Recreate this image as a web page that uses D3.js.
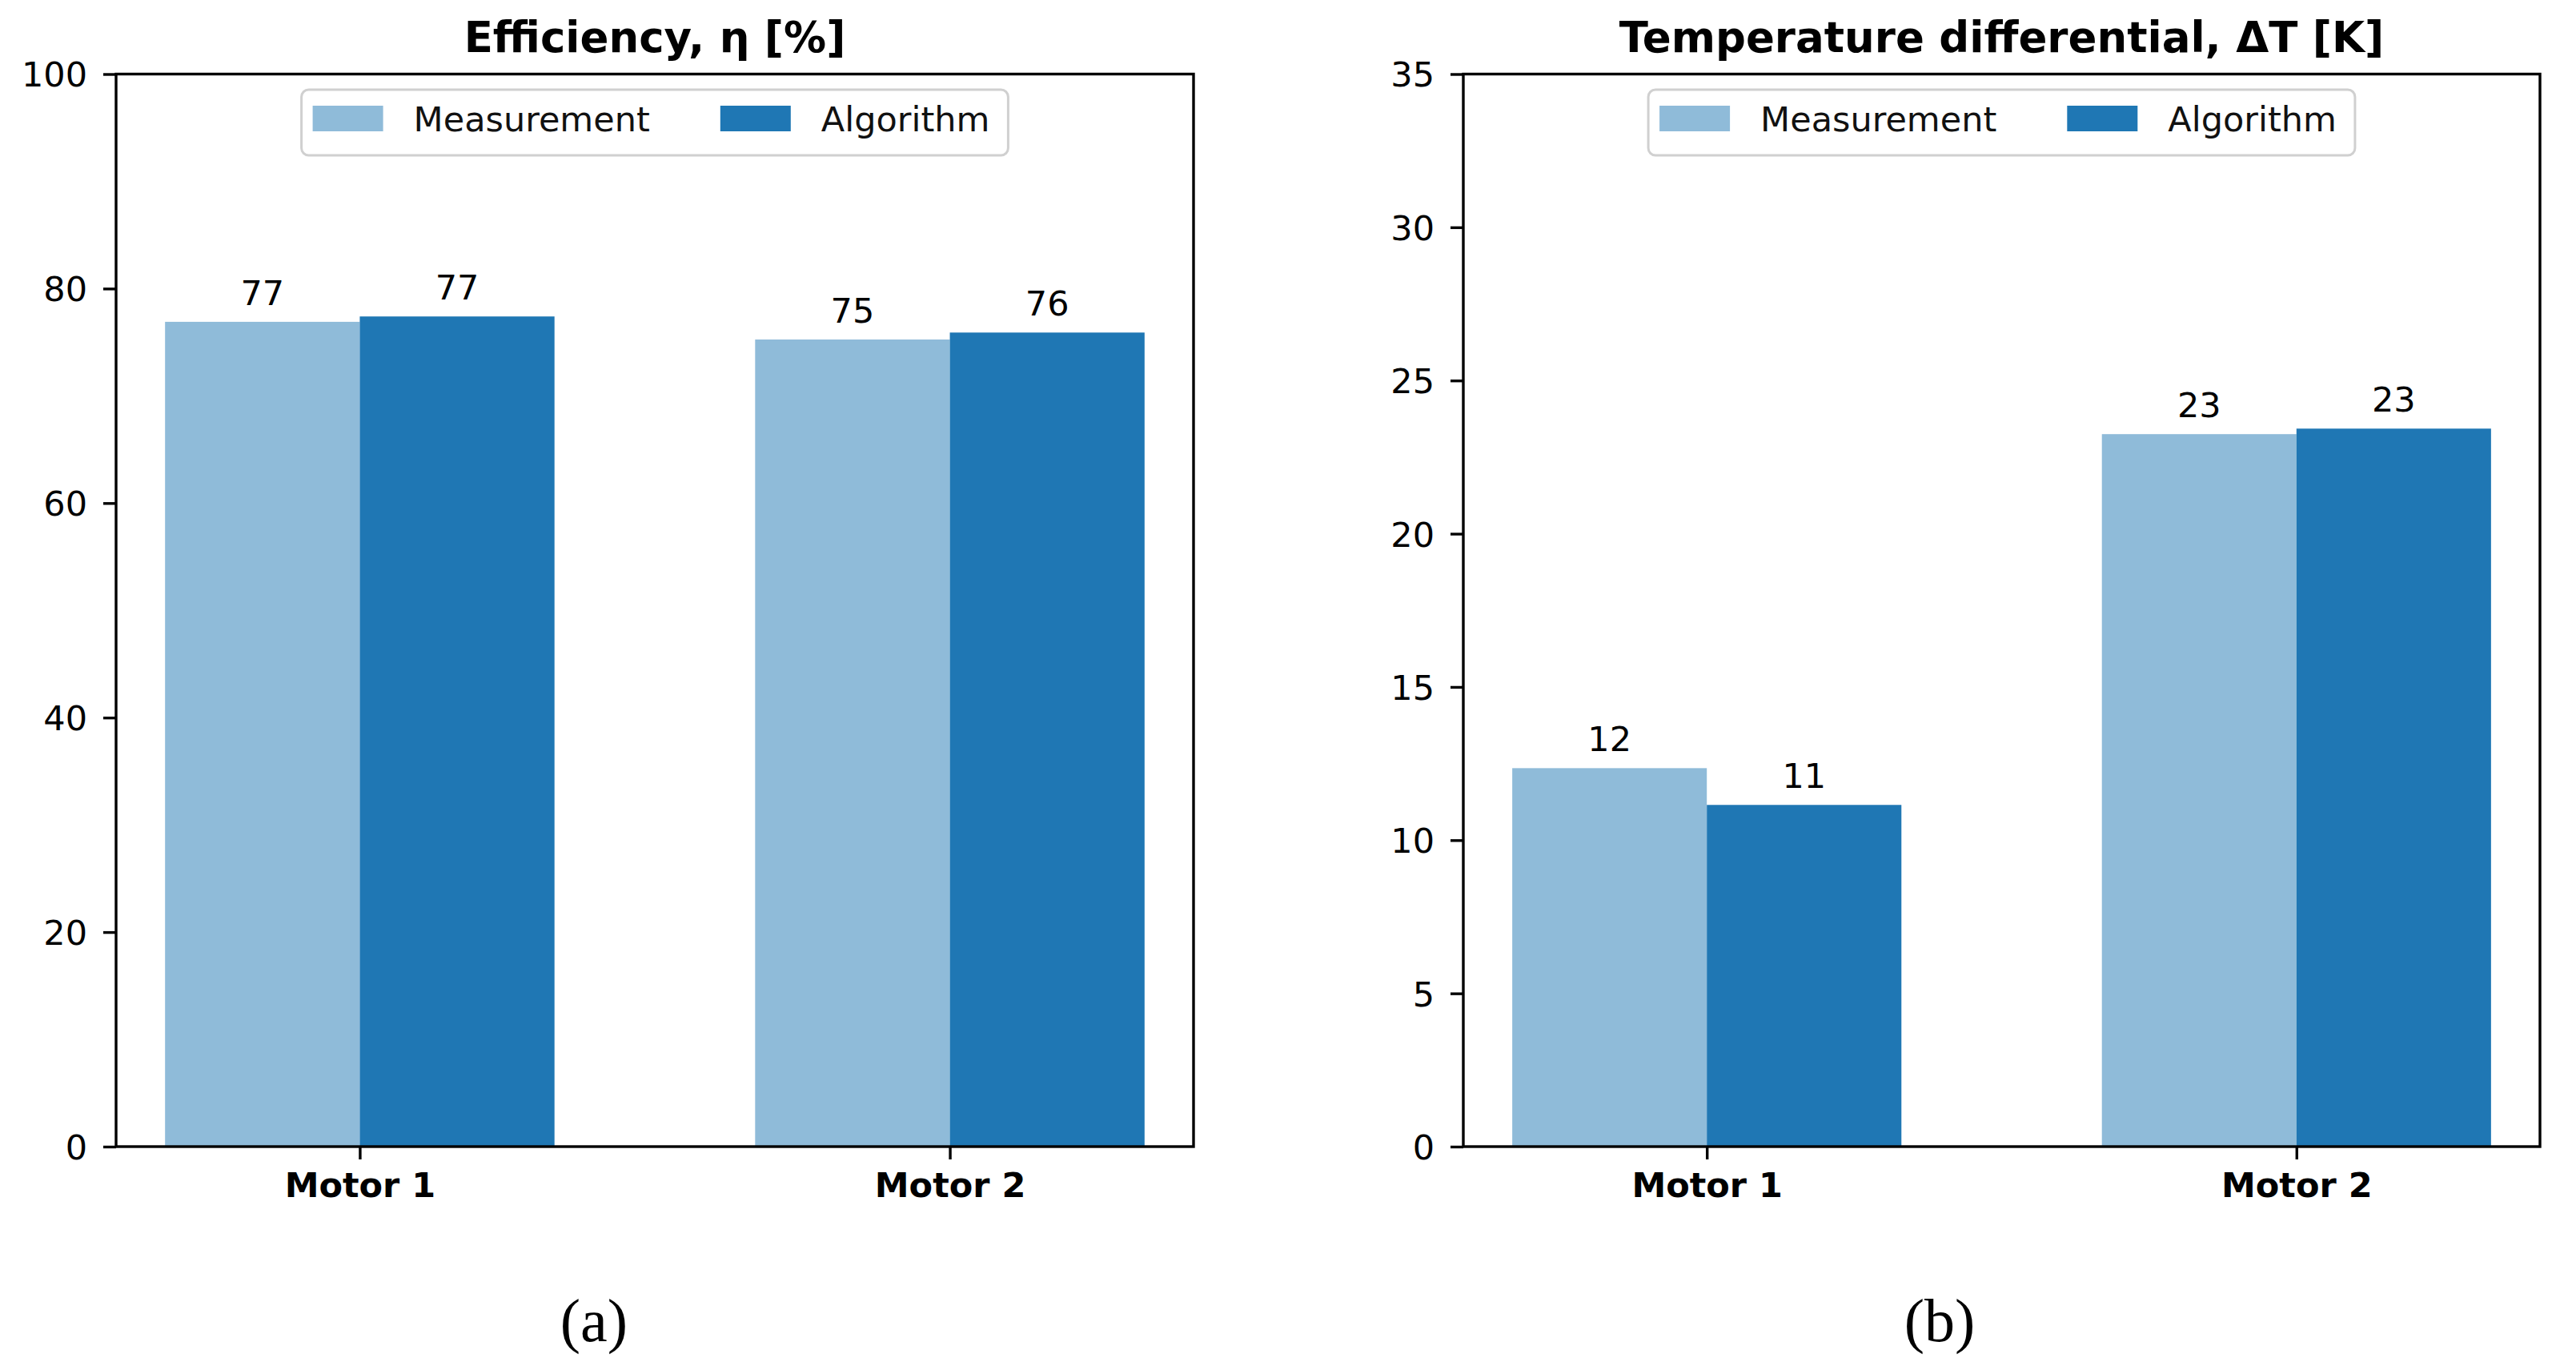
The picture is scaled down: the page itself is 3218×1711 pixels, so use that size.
<!DOCTYPE html>
<html>
<head>
<meta charset="utf-8">
<script src="https://cdn.jsdelivr.net/npm/d3@7"></script>
<style>
  html, body { margin: 0; padding: 0; background: #ffffff; }
  svg { display: block; }
</style>
</head>
<body>
<svg id="chart" width="3218" height="1711"></svg>
<script>
// ---------------- data ----------------
const categories = ["Motor 1", "Motor 2"];
const seriesNames = ["Measurement", "Algorithm"];
const seriesColors = ["#8fbbd9", "#1f77b4"];

const efficiencyMeasurement = [76.9, 75.25];
const efficiencyAlgorithm   = [77.4, 75.9];
const efficiencyTicks = [0, 20, 40, 60, 80, 100];

const tempMeasurement = [12.35, 23.25];
const tempAlgorithm   = [11.15, 23.43];
const tempTicks = [0, 5, 10, 15, 20, 25, 30, 35];

const panelTitles = ["Efficiency, η [%]", "Temperature differential, ΔT [K]"];
const panelLetters = ["(a)", "(b)"];

// ---------------- layout ----------------
const svg = d3.select("#chart");
const FONT = "DejaVu Sans, Liberation Sans, sans-serif";
const FS = 43;
const barWidth = 0.33;
const axTop = 92.5, axBottom = 1432;

const panels = [
  { left: 145, right: 1491, title: panelTitles[0], ticks: efficiencyTicks,
    yMax: 100, data: [efficiencyMeasurement, efficiencyAlgorithm], letter: panelLetters[0], letterX: 742 },
  { left: 1828, right: 3173, title: panelTitles[1], ticks: tempTicks,
    yMax: 35, data: [tempMeasurement, tempAlgorithm], letter: panelLetters[1], letterX: 2423 }
];

panels.forEach(p => {
  const g = svg.append("g");
  const n = categories.length;
  const lo = -barWidth, hi = (n - 1) + barWidth;
  const m = 0.05 * (hi - lo);
  const x = d3.scaleLinear().domain([lo - m, hi + m]).range([p.left, p.right]);
  const y = d3.scaleLinear().domain([0, p.yMax]).range([axBottom, axTop]);

  // bars
  p.data.forEach((vals, si) => {
    const offset = si === 0 ? -barWidth : 0;
    g.selectAll(null).data(vals).enter().append("rect")
      .attr("x", (d, i) => x(i + offset))
      .attr("width", x(barWidth) - x(0))
      .attr("y", d => y(d))
      .attr("height", d => y(0) - y(d))
      .attr("fill", seriesColors[si]);
    // value labels
    g.selectAll(null).data(vals).enter().append("text")
      .attr("x", (d, i) => x(i + offset + barWidth / 2))
      .attr("y", d => y(d) - 21)
      .attr("text-anchor", "middle")
      .attr("font-family", FONT)
      .attr("font-size", FS)
      .attr("fill", "#000")
      .text(d => d3.format(".0f")(d));
  });

  // y axis
  const yAxis = d3.axisLeft(y).tickValues(p.ticks).tickSize(16).tickPadding(20)
    .tickFormat(d3.format("d"));
  const ya = g.append("g").attr("transform", `translate(${p.left},0)`).call(yAxis);
  ya.select(".domain").remove();
  ya.selectAll(".tick line").attr("stroke", "#000").attr("stroke-width", 3.4);
  ya.selectAll(".tick text").attr("font-family", FONT).attr("font-size", FS)
    .attr("fill", "#000").attr("dy", "0.36em");

  // x axis
  const xAxis = d3.axisBottom(x).tickValues(d3.range(n)).tickSize(16).tickPadding(16)
    .tickFormat(i => categories[i]);
  const xa = g.append("g").attr("transform", `translate(0,${axBottom})`).call(xAxis);
  xa.select(".domain").remove();
  xa.selectAll(".tick line").attr("stroke", "#000").attr("stroke-width", 3.4);
  xa.selectAll(".tick text").attr("font-family", FONT).attr("font-size", FS)
    .attr("font-weight", "bold").attr("fill", "#000").attr("dy", "0.72em");

  // frame
  g.append("rect")
    .attr("x", p.left).attr("y", axTop)
    .attr("width", p.right - p.left).attr("height", axBottom - axTop)
    .attr("fill", "none").attr("stroke", "#000").attr("stroke-width", 3.4);

  // title
  const cx = (p.left + p.right) / 2;
  g.append("text")
    .attr("x", cx).attr("y", 65)
    .attr("text-anchor", "middle")
    .attr("font-family", FONT).attr("font-size", 53).attr("font-weight", "bold")
    .attr("fill", "#000")
    .text(p.title);

  // legend
  const lg = g.append("g");
  const frame = lg.append("rect");
  const pad = 14, handleLen = 88, handleGap = 38, colGap = 88;
  let cursor = 0;
  const items = [];
  seriesNames.forEach((name, si) => {
    const patch = lg.append("rect")
      .attr("y", 20).attr("width", handleLen).attr("height", 32)
      .attr("fill", seriesColors[si]);
    const t = lg.append("text")
      .attr("y", 52)
      .attr("font-family", FONT).attr("font-size", FS).attr("fill", "#111")
      .text(name);
    items.push({ patch, t });
  });
  cursor = pad;
  items.forEach((it, i) => {
    it.patch.attr("x", cursor);
    cursor += handleLen + handleGap;
    it.t.attr("x", cursor);
    cursor += it.t.node().getComputedTextLength();
    if (i < items.length - 1) cursor += colGap;
  });
  const boxW = cursor + 23;
  frame.attr("x", 0).attr("y", 0).attr("width", boxW).attr("height", 82)
    .attr("rx", 9).attr("ry", 9)
    .attr("fill", "#fff").attr("fill-opacity", 0.8)
    .attr("stroke", "#d0d0d0").attr("stroke-width", 3);
  lg.attr("transform", `translate(${cx - boxW / 2},112)`);

  // subfigure letter
  svg.append("text")
    .attr("x", p.letterX).attr("y", 1675)
    .attr("text-anchor", "middle")
    .attr("font-family", "Liberation Serif, DejaVu Serif, serif")
    .attr("font-size", 76).attr("fill", "#000")
    .text(p.letter);
});
</script>
</body>
</html>
